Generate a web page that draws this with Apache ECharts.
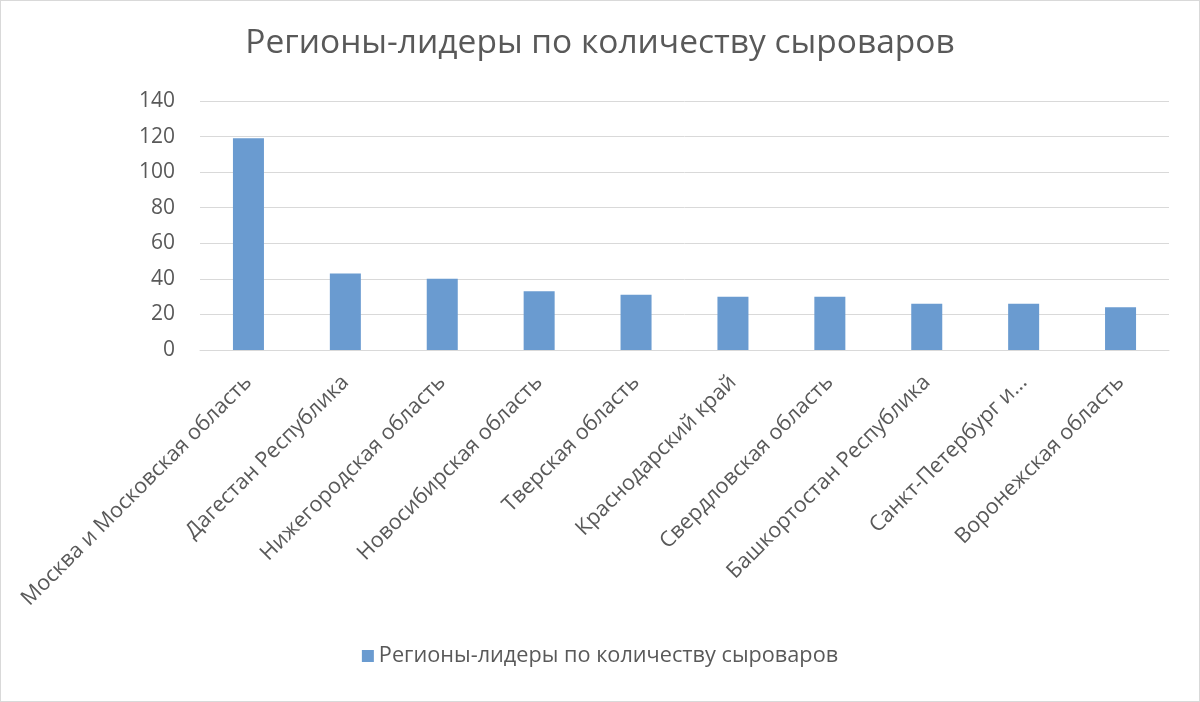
<!DOCTYPE html>
<html>
<head>
<meta charset="utf-8">
<script src="https://cdn.jsdelivr.net/npm/echarts@6/dist/echarts.min.js"></script>
<style>
html,body{margin:0;padding:0;background:#fff;}
#chart{width:1200px;height:702px;box-sizing:border-box;border:1px solid #d9d9d9;}
</style>
</head>
<body>
<div id="chart"></div>
<script>
const categories = [
  "Москва и Московская область",
  "Дагестан Республика",
  "Нижегородская область",
  "Новосибирская область",
  "Тверская область",
  "Краснодарский край",
  "Свердловская область",
  "Башкортостан Республика",
  "Санкт-Петербург и...",
  "Воронежская область"
];
const values = [119, 43, 40, 33, 31, 30, 30, 26, 26, 24];
const seriesName = "Регионы-лидеры по количеству сыроваров";
const titleText = "Регионы-лидеры по количеству сыроваров";

const chart = echarts.init(document.getElementById('chart'));
const font = "'Open Sans', 'Noto Sans', sans-serif";
chart.setOption({
  animation: false,
  textStyle: { fontFamily: font },
  title: {
    text: titleText,
    left: 'center',
    top: 20,
    textStyle: { fontFamily: font, fontSize: 33.5, fontWeight: 'normal', color: '#595959' }
  },
  legend: {
    bottom: 29,
    left: 'center',
    itemWidth: 12,
    itemHeight: 12,
    itemGap: 10,
    icon: 'rect',
    textStyle: { fontFamily: font, fontSize: 21.7, color: '#595959' },
    data: [seriesName]
  },
  grid: { left: 199, right: 30, top: 100, bottom: 351, containLabel: false },
  xAxis: {
    type: 'category',
    data: categories,
    axisLine: { show: true, lineStyle: { color: '#d9d9d9', width: 1 } },
    axisTick: { show: false },
    axisLabel: {
      rotate: 45,
      interval: 0,
      margin: 29,
      fontFamily: font,
      fontSize: 21.5,
      color: '#595959'
    }
  },
  yAxis: {
    type: 'value',
    min: 0,
    max: 140,
    interval: 20,
    axisLine: { show: false },
    axisTick: { show: false },
    splitLine: { lineStyle: { color: '#d9d9d9', width: 1 } },
    axisLabel: { fontFamily: font, fontSize: 21, color: '#595959', margin: 25 }
  },
  series: [{
    name: seriesName,
    type: 'bar',
    data: values,
    barWidth: '32%',
    itemStyle: { color: '#6a9bd0' }
  }]
});
</script>
</body>
</html>
